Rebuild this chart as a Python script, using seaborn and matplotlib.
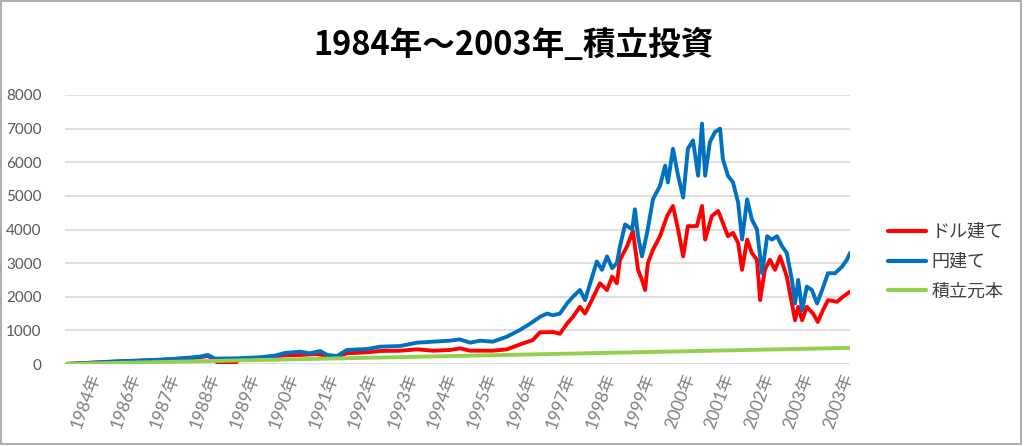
import numpy as np
import pandas as pd
import matplotlib
matplotlib.use("Agg")
import matplotlib.pyplot as plt
import seaborn as sns
from matplotlib.patches import Rectangle

# chart data
title = "1984年～2003年_積立投資"
labels_series = ["ドル建て", "円建て", "積立元本"]
colors = ["#FF0000", "#0070C0", "#92D050"]

# 円建て (blue)
yen_year = [1984.00, 1984.71, 1985.35, 1985.83, 1986.42, 1986.85, 1987.18, 1987.44, 1987.64, 1987.82,
            1988.46, 1988.97, 1989.35, 1989.61, 1989.99, 1990.24, 1990.50, 1990.68, 1990.93, 1991.18,
            1991.69, 1992.03, 1992.54, 1992.97, 1993.38, 1993.81, 1994.06, 1994.32, 1994.57, 1994.90,
            1995.26, 1995.59, 1995.85, 1996.10, 1996.28, 1996.43, 1996.61, 1996.79, 1996.94, 1997.12,
            1997.25, 1997.38, 1997.55, 1997.68, 1997.81, 1997.94, 1998.06, 1998.14, 1998.27, 1998.45,
            1998.52, 1998.60, 1998.70, 1998.83, 1998.98, 1999.16, 1999.29, 1999.36, 1999.49, 1999.62,
            1999.75, 1999.87, 2000.00, 2000.13, 2000.23, 2000.31, 2000.43, 2000.56, 2000.69, 2000.76,
            2000.89, 2001.02, 2001.15, 2001.25, 2001.38, 2001.50, 2001.63, 2001.76, 2001.89, 2002.01,
            2002.14, 2002.27, 2002.39, 2002.52, 2002.60, 2002.68, 2002.78, 2002.90, 2003.03, 2003.16,
            2003.29, 2003.44, 2003.62, 2003.80, 2003.92, 2004.00]
yen_value = [0, 40, 80, 100, 130, 160, 190, 220, 270, 160,
             170, 200, 250, 330, 365, 318, 386, 268, 238, 416,
             446, 515, 535, 634, 664, 694, 733, 634, 694, 664,
             813, 1011, 1200, 1400, 1500, 1450, 1500, 1800, 2000, 2200,
             1900, 2400, 3050, 2800, 3200, 2850, 3000, 3500, 4150, 4000,
             4600, 3800, 3200, 3900, 4900, 5300, 5900, 5400, 6400, 5600,
             4950, 6400, 6650, 5600, 7150, 5600, 6600, 6900, 7000, 6100,
             5600, 5400, 4800, 3700, 4900, 4300, 4000, 2700, 3800, 3700,
             3800, 3500, 3300, 2500, 1800, 2500, 1600, 2300, 2200, 1800,
             2200, 2700, 2700, 2900, 3100, 3300]

# ドル建て (red)
usd_year = [1984.00, 1984.71, 1985.35, 1985.83, 1986.42, 1986.85, 1987.18, 1987.44, 1987.64, 1987.82,
            1987.87, 1988.36, 1988.46, 1988.97, 1989.35, 1989.61, 1989.99, 1990.42, 1990.68, 1990.93,
            1991.18, 1991.69, 1992.03, 1992.54, 1992.97, 1993.38, 1993.81, 1994.06, 1994.32, 1994.90,
            1995.26, 1995.59, 1995.92, 1996.10, 1996.43, 1996.61, 1996.79, 1996.94, 1997.12, 1997.25,
            1997.38, 1997.63, 1997.81, 1997.94, 1998.06, 1998.14, 1998.32, 1998.47, 1998.60, 1998.70,
            1998.78, 1998.85, 1998.98, 1999.16, 1999.34, 1999.49, 1999.62, 1999.75, 1999.87, 2000.10,
            2000.23, 2000.31, 2000.48, 2000.64, 2000.76, 2000.89, 2001.02, 2001.15, 2001.25, 2001.38,
            2001.50, 2001.63, 2001.71, 2001.83, 2001.96, 2002.09, 2002.22, 2002.39, 2002.52, 2002.60,
            2002.68, 2002.78, 2002.90, 2003.06, 2003.18, 2003.31, 2003.44, 2003.67, 2003.82, 2004.00]
usd_value = [0, 40, 75, 95, 120, 150, 170, 200, 240, 130,
             50, 50, 160, 180, 230, 260, 268, 297, 238, 218,
             318, 347, 387, 396, 436, 396, 416, 466, 396, 396,
             436, 580, 714, 940, 950, 900, 1200, 1400, 1700, 1500,
             1800, 2400, 2200, 2600, 2400, 3100, 3500, 3950, 2800, 2500,
             2200, 3000, 3400, 3800, 4400, 4700, 4000, 3200, 4100, 4100,
             4700, 3700, 4400, 4550, 4200, 3800, 3900, 3600, 2800, 3700,
             3300, 3100, 1900, 2800, 3100, 2800, 3200, 2600, 1800, 1300,
             1700, 1300, 1700, 1500, 1250, 1600, 1900, 1850, 2000, 2150]

# 積立元本 (green)
principal_year = [1984, 1985, 1986, 1987, 1988, 1989, 1990, 1991, 1992, 1993, 1994,
                  1995, 1996, 1997, 1998, 1999, 2000, 2001, 2002, 2003, 2004]
principal_value = [0, 24, 48, 72, 96, 120, 144, 168, 192, 216, 240,
                   264, 288, 312, 336, 360, 384, 408, 432, 456, 480]

tick_labels = ["1984年", "1986年", "1987年", "1988年", "1989年", "1990年", "1991年",
               "1992年", "1993年", "1994年", "1995年", "1996年", "1997年", "1998年",
               "1999年", "2000年", "2001年", "2002年", "2003年", "2003年"]

sns.set_style("white")
plt.rcParams["font.family"] = ["Lato", "Noto Sans CJK JP", "DejaVu Sans"]

fig = plt.figure(figsize=(10.24, 4.46), dpi=100)
ax = fig.add_axes([65 / 1024, 1 - 364 / 446, 785 / 1024, 269 / 446])

sns.lineplot(x=usd_year, y=usd_value, ax=ax, color=colors[0], lw=2.8, label=labels_series[0], estimator=None)
sns.lineplot(x=yen_year, y=yen_value, ax=ax, color=colors[1], lw=2.8, label=labels_series[1], estimator=None)
sns.lineplot(x=principal_year, y=principal_value, ax=ax, color=colors[2], lw=2.8, label=labels_series[2], estimator=None)

ax.set_xlim(1984, 2004)
ax.set_ylim(0, 8000)
ax.set_yticks(np.arange(0, 8001, 1000))
ax.set_xticks(np.linspace(1984.79, 2003.95, len(tick_labels)))
ax.set_xticklabels(tick_labels, rotation=70, ha="right", va="center", rotation_mode="anchor",
                   fontsize=12.5, color="#7f7f7f")
ax.tick_params(axis="y", labelsize=11, labelcolor="#595959", length=0, pad=17)
ax.tick_params(axis="x", length=0, pad=7)
ax.grid(axis="y", color="#d9d9d9", lw=1.2)
ax.set_axisbelow(True)
for s in ax.spines.values():
    s.set_visible(False)
ax.set_xlabel("")
ax.set_ylabel("")

ax.legend(loc="center left", bbox_to_anchor=(888 / 1024, 1 - 261.5 / 446), bbox_transform=fig.transFigure,
          frameon=False, fontsize=13, handlelength=2.1, handletextpad=0.3, labelspacing=0.75,
          borderpad=0, borderaxespad=0, labelcolor="#404040")
for h in ax.get_legend().get_lines():
    h.set_linewidth(3)

fig.text(514 / 1024, 1 - 45 / 446, title, ha="center", va="center", fontsize=23.5, fontweight="bold",
         color="black", family=["Noto Sans CJK JP", "DejaVu Sans"])

fig.add_artist(Rectangle((0.001, 0.004), 0.996, 0.993, transform=fig.transFigure, fill=False,
                         ec="#a0a0a0", lw=1.2))

fig.savefig("out.png", dpi=100)
